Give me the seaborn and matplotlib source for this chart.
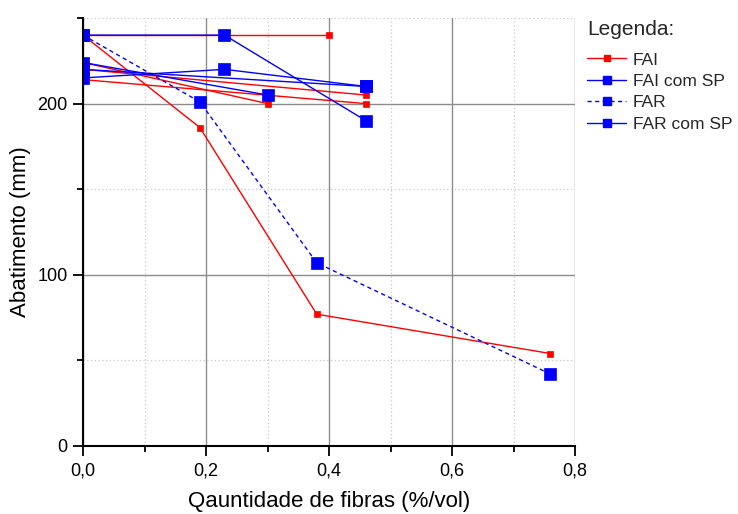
import matplotlib
matplotlib.use("Agg")
import matplotlib.pyplot as plt
from matplotlib.lines import Line2D
from matplotlib.ticker import MultipleLocator, FuncFormatter
import seaborn as sns
import pandas as pd

sns.set_theme(style="white")
plt.rcParams['font.family'] = ['Liberation Sans', 'DejaVu Sans']

# FAI (red, small squares)
fai_x = [[0, 0.40], [0, 0.19, 0.38, 0.76], [0, 0.30], [0, 0.46], [0, 0.46]]
fai_y = [[240, 240], [240, 186, 77, 54], [224, 200], [220, 205], [214, 200]]
# FAI com SP (blue solid)
faisp_x = [[0, 0.23, 0.46], [0, 0.30]]
faisp_y = [[240, 240, 190], [224, 205]]
# FAR (blue dashed)
far_x = [[0, 0.19, 0.38, 0.76]]
far_y = [[240, 201, 107, 42]]
# FAR com SP (blue solid)
farsp_x = [[0, 0.46], [0, 0.23, 0.46]]
farsp_y = [[220, 210], [215, 220, 210]]

legend_labels = ["FAI", "FAI com SP", "FAR", "FAR com SP"]
x_ticks = [0.0, 0.2, 0.4, 0.6, 0.8]
y_ticks = [0, 100, 200]

fig = plt.figure(figsize=(7.38, 5.14), dpi=100)
ax = fig.add_axes([0.1125, 0.1323, 0.6667, 0.8327])

ax.set_xlim(0, 0.8)
ax.set_ylim(0, 250)
ax.xaxis.set_major_locator(MultipleLocator(0.2))
ax.xaxis.set_minor_locator(MultipleLocator(0.1))
ax.yaxis.set_major_locator(MultipleLocator(100))
ax.yaxis.set_minor_locator(MultipleLocator(50))
ax.grid(which='major', color='#8c8c8c', linewidth=1.0, linestyle='-')
ax.grid(which='minor', color='#c8c8c8', linewidth=0.9, linestyle=(0, (1, 2)))
ax.set_axisbelow(True)

styles = {
    "FAI": dict(color='#ff0000', ms=5, lms=5, ls='-'),
    "FAI com SP": dict(color='#0000ff', ms=8, lms=6, ls='-'),
    "FAR": dict(color='#0000ff', ms=8, lms=6, ls=(0, (3, 2.5))),
    "FAR com SP": dict(color='#0000ff', ms=8, lms=6, ls='-'),
}

def draw(xs, ys, name):
    st = styles[name]
    for gx, gy in zip(xs, ys):
        df = pd.DataFrame({"x": gx, "y": gy})
        sns.lineplot(data=df, x="x", y="y", ax=ax, sort=False, estimator=None,
                     color=st['color'], linewidth=1.0, linestyle=st['ls'],
                     marker='s', markersize=st['ms'], markeredgecolor=st['color'],
                     markeredgewidth=0.5, legend=False, clip_on=True)

draw(fai_x, fai_y, "FAI")
draw(faisp_x, faisp_y, "FAI com SP")
draw(far_x, far_y, "FAR")
draw(farsp_x, farsp_y, "FAR com SP")

fmt = FuncFormatter(lambda v, p: f"{v:.1f}".replace('.', ','))
ax.xaxis.set_major_formatter(fmt)
ax.set_xticks(x_ticks)
ax.set_yticks(y_ticks)

for s in ['top', 'right']:
    ax.spines[s].set_visible(False)
for s in ['left', 'bottom']:
    ax.spines[s].set_color('black')
    ax.spines[s].set_linewidth(1.5)

ax.tick_params(which='major', direction='out', length=7, width=1.3, colors='black',
               labelsize=13, bottom=True, left=True, pad=4)
ax.tick_params(which='minor', direction='out', length=4, width=1.3, colors='black',
               bottom=True, left=True)
ax.tick_params(axis='x', pad=5)

ax.set_xlabel("Qauntidade de fibras (%/vol)", fontsize=16, color='black', labelpad=8)
ax.set_ylabel("Abatimento (mm)", fontsize=16, color='black', labelpad=5)

handles = []
for name in legend_labels:
    st = styles[name]
    handles.append(Line2D([0], [0], color=st['color'], linestyle=st['ls'], linewidth=1.0,
                          marker='s', markersize=st['lms'], markeredgecolor=st['color']))
leg = fig.legend(handles, legend_labels, title="Legenda:", loc='upper left',
                 bbox_to_anchor=(0.796, 0.962), frameon=False, fontsize=12.5,
                 title_fontsize=15, handlelength=2.2, handletextpad=0.4,
                 labelspacing=0.36, borderaxespad=0, borderpad=0)
leg._legend_box.align = "left"
leg._legend_box.sep = 10

fig.savefig("out.png", dpi=100)
